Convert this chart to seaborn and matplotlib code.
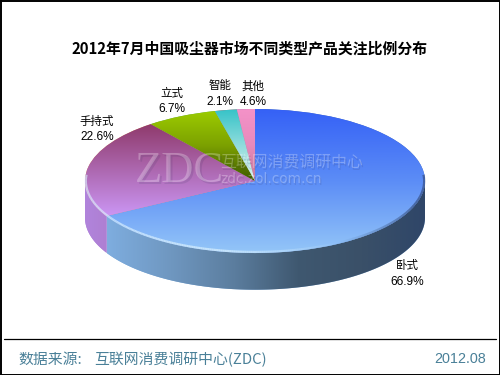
import numpy as np
import matplotlib
matplotlib.use('Agg')
import matplotlib.pyplot as plt
from matplotlib.collections import LineCollection
import seaborn as sns

# printed labels, clockwise from 12 o'clock
names = ['卧式', '手持式', '立式', '智能', '其他']
printed = ['66.9%', '22.6%', '6.7%', '2.1%', '4.6%']
# slice sizes as drawn: the last one is narrower in the picture than its 4.6% label
shares = [66.9, 22.6, 6.7, 2.1, 1.7]

title = '2012年7月中国吸尘器市场不同类型产品关注比例分布'
source_head = '数据来源:'
source_body = '互联网消费调研中心(ZDC)'
date = '2012.08'

# top face gradients, top colour to bottom colour
top_grads = [
    ['#3561f6', '#5c8df6', '#94c6f8'],
    ['#8f3a6c', '#ad68b0', '#cb96f4'],
    ['#9ccb00', '#7ba000', '#3f5a00'],
    ['#36c3c8', '#8fdcdc', '#dcf2f0'],
    ['#f492c8', '#e88abc', '#c87a98'],
]
# side gradients, left to right
side_grads = [
    ['#7eaddf', '#6f97c0', '#5b7d9e', '#3f5870', '#3a5068', '#2f4668'],
    ['#b184dc', '#ae7fd2'],
]

sns.set_theme(style='white')
plt.rcParams['font.family'] = ['Noto Sans CJK SC', 'DejaVu Sans']

W, H = 500, 375
CX, CY, RX, RY = 255, 181, 170, 72
DEPTH = 0.51  # in units of RY

fig = plt.figure(figsize=(W / 100, H / 100), dpi=100, facecolor='white')


def px(x, y):
    return x / W, 1 - y / H


# page frame and footer rule
page = fig.add_axes([0, 0, 1, 1])
page.set_xlim(0, W)
page.set_ylim(H, 0)
page.axis('off')
page.plot([0.5, W, W, 0.5, 0.5], [0.5, 0.5, H - 0.5, H - 0.5, 0.5], color='black', lw=1.4, clip_on=False)
page.plot([4, 496], [338.5, 338.5], color='black', lw=0.9)

# pie axes: ellipse units, so y=+-1 is RY pixels from the centre
y_top, y_bot = 1.03, -1 - DEPTH - 0.03
ax_left = (CX - RX * 1.01) / W
ax_w = 2 * RX * 1.01 / W
ax_b = 1 - (CY - y_bot * RY) / H
ax_h = (y_top - y_bot) * RY / H
ax = fig.add_axes([ax_left, ax_b, ax_w, ax_h])
ax.patch.set_alpha(0)

wedges, _ = ax.pie(shares, startangle=90, counterclock=False, radius=1, normalize=True)
ax.set_aspect('auto')

edges = np.concatenate([[0], np.cumsum(shares)]) * 3.6  # clockwise from top, degrees


def cmap(colors):
    return sns.blend_palette(colors, 64, as_cmap=True)


# side wall, only the part facing the viewer (90..270 degrees)
for i in range(len(shares)):
    a0, a1 = max(edges[i], 90), min(edges[i + 1], 270)
    if a1 <= a0:
        continue
    th = np.radians(np.linspace(a0, a1, 150))
    xs, ys = np.sin(th), np.cos(th)
    poly = ax.fill(np.r_[xs, xs[::-1]], np.r_[ys, ys[::-1] - DEPTH], color=side_grads[i][0], lw=0, zorder=1)[0]
    im = ax.imshow(np.linspace(0, 1, 256)[None, :], cmap=cmap(side_grads[i]),
                   extent=(xs.min(), xs.max(), -1 - DEPTH, 0), aspect='auto', zorder=1.5)
    im.set_clip_path(poly)

# top face
for i, w in enumerate(wedges):
    w.set_zorder(2)
    w.set_edgecolor('none')
    th = np.radians(np.linspace(edges[i], edges[i + 1], 100))
    ys = np.r_[np.cos(th), 0]
    im = ax.imshow(np.linspace(0, 1, 256)[:, None], cmap=cmap(top_grads[i]),
                   extent=(-1, 1, ys.min(), ys.max()), aspect='auto', origin='upper', zorder=2.5)
    im.set_clip_path(w)

# bevel along the rim: light at the front, dark to the right
th = np.radians(np.linspace(85, 275, 300))
pts = np.c_[np.sin(th) * 0.995, np.cos(th) * 0.985]
segs = np.stack([pts[:-1], pts[1:]], axis=1)
mid = np.degrees(th[:-1])
rgba = np.zeros((len(mid), 4))
light = mid > 150
rgba[light, :3] = matplotlib.colors.to_rgb('#dcf2ff')
rgba[light, 3] = 0.7 * np.clip((mid[light] - 150) / 40, 0, 1)
rgba[~light, :3] = matplotlib.colors.to_rgb('#26365a')
rgba[~light, 3] = 0.55 * np.clip((150 - mid[~light]) / 40, 0, 1)
ax.add_collection(LineCollection(segs, colors=rgba, linewidths=1.6, zorder=3))

ax.set_xlim(-1.01, 1.01)
ax.set_ylim(y_bot, y_top)
ax.axis('off')

# watermark, soft shadow first
for off, col, al in [(1.5, '#30305a', 0.13), (0, 'white', 0.27)]:
    wm = dict(color=col, alpha=al, va='center', ha='left')
    fig.text(*px(135 + off, 171 + off), 'ZDC', family='Liberation Serif', fontsize=32, **wm)
    fig.text(*px(220 + off, 163 + off), '互联网消费调研中心', fontsize=11.4, **wm)
    fig.text(*px(220 + off, 179 + off), 'zdc.zol.com.cn', family='DejaVu Sans', fontsize=9.9, **wm)

# slice labels
label_xy = [(407, 266), (97, 121), (172, 93), (220, 86), (253, 86)]
for name, pct, (lx, ly) in zip(names, printed, label_xy):
    fig.text(*px(lx, ly), name, fontsize=8.3, ha='center', va='center', color='black')
    fig.text(*px(lx, ly + 16), pct, family='Liberation Sans', fontsize=8.6, ha='center', va='center', color='black')

fig.text(*px(250, 48), title, fontsize=10.7, fontweight='bold', ha='center', va='center', color='black')
fig.text(*px(18, 360), source_head, fontsize=10.7, ha='left', va='center', color='#4a8098')
fig.text(*px(94, 360), source_body, fontsize=10.7, ha='left', va='center', color='#4a8098')
fig.text(*px(486, 359), date, family='Liberation Sans', fontsize=10.4, ha='right', va='center', color='#4a8098')

fig.savefig('out.png', dpi=100, facecolor='white')
